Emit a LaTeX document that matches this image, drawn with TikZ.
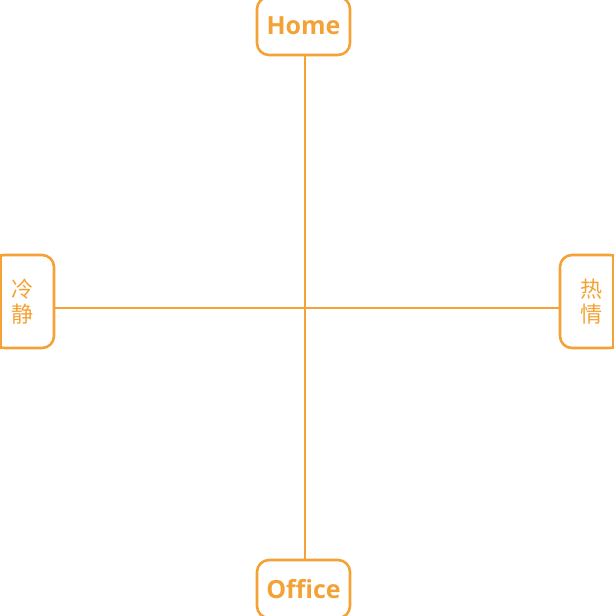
\documentclass[tikz,border=0pt]{standalone}
\usepackage{fontspec}
\setsansfont{Open Sans}
\newfontfamily\cjk{Noto Sans CJK SC}
\definecolor{mark orange}{HTML}{F4A236}

\tikzset{
  axisline/.style={draw=mark orange, line width=2.6pt},
  placebox/.style={draw=mark orange, line width=2.6pt, rounded corners=12pt,
    text=mark orange, font=\sffamily\bfseries\fontsize{25}{30}\selectfont,
    minimum width=93pt, minimum height=58pt},
  moodbox/.style={draw=mark orange, line width=2.6pt, rounded corners=12pt,
    text=mark orange, font=\cjk\fontsize{22}{25}\selectfont, align=center,
    minimum width=62pt, minimum height=93pt},
}

\begin{document}
\begin{tikzpicture}[x=1pt,y=-1pt]
  \useasboundingbox (0,0) rectangle (614,616);
  \clip (0,0) rectangle (614,616);

  % --- crossing point and page edges ---
  \coordinate (c) at (305,308);
  \coordinate (west edge) at (1,0);
  \coordinate (east edge) at (613,0);

  % --- Home / Office (top and bottom) ---
  \node[placebox] (home) at (303.5,26) {Home};
  \node[placebox] (office) at (303.5,589) {Office};

  % --- 冷静 / 热情 (left and right) ---
  \node[moodbox] (cold) at (23,301.5) {冷\\静};
  \node[moodbox] (warm) at (591,301.5) {热\\情};
  \draw[axisline] (cold.north -| west edge) -- (cold.south -| west edge);
  \draw[axisline] (warm.north -| east edge) -- (warm.south -| east edge);

  % --- axes ---
  \draw[axisline] (home.south -| c) -- (office.north -| c);
  \draw[axisline] (cold.east |- c) -- (warm.west |- c);

\end{tikzpicture}
\end{document}
